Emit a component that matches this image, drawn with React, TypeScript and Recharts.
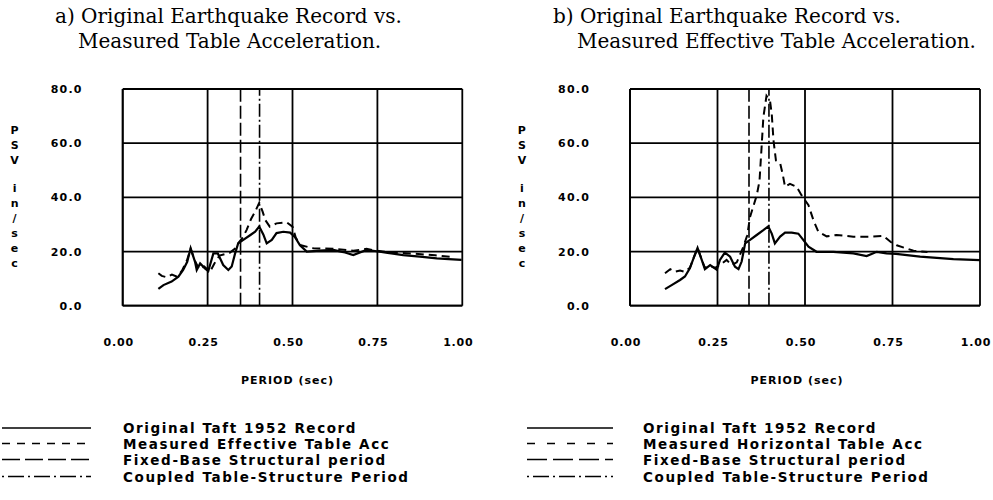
import {CartesianGrid, Line, LineChart, ReferenceLine, XAxis, YAxis} from "recharts";

// a) original record vs measured table acceleration
const taftPeriodA = [0.105, 0.12, 0.144, 0.164, 0.178, 0.19, 0.2, 0.213, 0.218, 0.228, 0.242, 0.252, 0.267, 0.28, 0.296, 0.311, 0.321, 0.331, 0.34, 0.355, 0.375, 0.39, 0.402, 0.414, 0.424, 0.439, 0.453, 0.473, 0.493, 0.507, 0.522, 0.542, 0.58, 0.62, 0.65, 0.679, 0.718, 0.743, 0.78, 0.826, 0.875, 0.925, 0.96, 0.998];
const taftPsvA = [6.2, 7.6, 8.9, 10.7, 13.2, 16.2, 21.2, 16.2, 13.2, 15.6, 13.8, 12.8, 19.3, 19.3, 15, 13.2, 14.5, 19.3, 23, 24.3, 26, 27.3, 29.2, 26.3, 23, 24.3, 26.8, 27.3, 27, 25.4, 22.3, 20, 20.3, 20.6, 19.8, 18.7, 20.6, 20.2, 19.5, 18.7, 18.1, 17.5, 17.2, 16.9];
const tablePeriodA = [0.105, 0.115, 0.13, 0.145, 0.16, 0.175, 0.19, 0.2, 0.213, 0.225, 0.24, 0.257, 0.27, 0.285, 0.3, 0.315, 0.33, 0.34, 0.355, 0.365, 0.378, 0.39, 0.402, 0.412, 0.42, 0.433, 0.453, 0.483, 0.5, 0.51, 0.525, 0.561, 0.62, 0.679, 0.718, 0.745, 0.8, 0.86, 0.92, 0.97];
const tablePsvA = [12, 11, 10.5, 11.5, 10.7, 13, 17, 21, 16.5, 13.5, 14.5, 12.5, 15.6, 18.5, 19, 19.5, 21, 23, 25.5, 28, 32, 34.7, 38, 34.7, 31.6, 29.2, 30.4, 30.8, 29.2, 25, 22.3, 21.2, 21, 20.3, 21, 20.3, 19.6, 19.2, 18.6, 18];

// b) original record vs measured horizontal table acceleration
const taftPeriodB = [0.1, 0.119, 0.143, 0.157, 0.171, 0.183, 0.193, 0.205, 0.214, 0.229, 0.248, 0.257, 0.271, 0.286, 0.3, 0.31, 0.319, 0.329, 0.343, 0.362, 0.381, 0.395, 0.405, 0.414, 0.429, 0.443, 0.462, 0.481, 0.495, 0.51, 0.533, 0.581, 0.638, 0.676, 0.705, 0.733, 0.76, 0.829, 0.924, 1.0];
const taftPsvB = [6.1, 7.6, 9.5, 10.8, 13.8, 18, 21.3, 16.9, 13.5, 15, 13.3, 16.9, 19.6, 18.1, 14.4, 13.5, 16.3, 23, 24.3, 26.1, 27.9, 29.3, 26.6, 23, 25.5, 27, 27, 26.6, 24.3, 21.8, 19.9, 19.9, 19.3, 18.3, 19.9, 19.3, 19.1, 18.1, 17.2, 16.8];
const tablePeriodB = [0.1, 0.115, 0.128, 0.143, 0.157, 0.171, 0.183, 0.193, 0.205, 0.214, 0.229, 0.243, 0.257, 0.276, 0.29, 0.305, 0.324, 0.335, 0.343, 0.352, 0.362, 0.37, 0.376, 0.381, 0.39, 0.4, 0.405, 0.41, 0.417, 0.429, 0.436, 0.443, 0.457, 0.476, 0.49, 0.51, 0.524, 0.538, 0.562, 0.59, 0.638, 0.686, 0.724, 0.745, 0.762, 0.81, 0.85];
const tablePsvB = [12, 13.5, 12.5, 13, 12.5, 14, 18, 21.3, 17, 14, 14.5, 14, 15, 16.9, 15, 16, 21.8, 26, 32.8, 36.5, 40.7, 46, 58.6, 69.5, 77.5, 75.7, 70.8, 61, 53.6, 52.6, 48.7, 43.9, 45, 43.9, 40.8, 37.1, 31.6, 27.3, 25.6, 26.1, 25.5, 25.5, 25.8, 23.5, 22.3, 20.3, 19.8];

const fixedBaseA = 0.347;
const coupledA = 0.403;
const fixedBaseB = 0.34;
const coupledB = 0.397;

const periodTicks = [0, 0.25, 0.5, 0.75, 1];
const psvTicks = [0, 20, 40, 60, 80];
const psvLetters = ["P", "S", "V", "i", "n", "/", "s", "e", "c"];

const titleA = ["a) Original Earthquake Record vs.", "Measured Table Acceleration."];
const titleB = ["b) Original Earthquake Record vs.", "Measured Effective Table Acceleration."];
const legendA = ["Original Taft 1952 Record", "Measured Effective Table Acc", "Fixed-Base Structural period", "Coupled Table-Structure Period"];
const legendB = ["Original Taft 1952 Record", "Measured Horizontal Table Acc", "Fixed-Base Structural period", "Coupled Table-Structure Period"];

const SANS = '"DejaVu Sans", sans-serif';
const SERIF = '"DejaVu Serif", serif';
const tickStyle = {fontFamily: SANS, fontWeight: 700, fontSize: 11, letterSpacing: 1.2, fill: "#000"};

type Pt = {period: number; psv: number};
const toPoints = (periods: number[], psv: number[]): Pt[] => periods.map((p, i) => ({period: p, psv: psv[i]}));

function PeriodTick({x, y, payload}: any) {
  return (
    <text x={x} y={y} dx={-4} dy={9} textAnchor="middle" style={{...tickStyle, letterSpacing: 0.8}}>
      {Number(payload.value).toFixed(2)}
    </text>
  );
}

function PsvTick({x, y, payload}: any) {
  return <text x={x} y={y} dy={4} textAnchor="end" style={tickStyle}>{Number(payload.value).toFixed(1)}</text>;
}

function PeriodLabel({viewBox, shift}: any) {
  if (!viewBox) return null;
  return (
    <text x={viewBox.x + viewBox.width / 2 + shift} y={viewBox.y + 78} textAnchor="middle" style={{...tickStyle, letterSpacing: 1}}>
      PERIOD (sec)
    </text>
  );
}

function PsvLabel({viewBox}: any) {
  if (!viewBox) return null;
  const x = viewBox.x - 47.5;
  return (
    <text textAnchor="middle" style={tickStyle}>
      {psvLetters.map((ch, i) => (
        <tspan key={i} x={x} y={viewBox.y + 45 + i * 15 + (i >= 3 ? 13 : 0)}>{ch}</tspan>
      ))}
    </text>
  );
}

const legendDashA = ["", "8 7", "18 5", "2 4 16 4"];
const legendDashB = ["", "8 12", "20 6", "2 4 16 4"];

function LegendBlock({left, lineX1, lineX2, textX, labels, dashes}: any) {
  const rows = [18, 33.5, 49.5, 66.5];
  return (
    <svg style={{position: "absolute", left, top: 410}} width={497} height={90}>
      {labels.map((lab: string, i: number) => (
        <g key={lab}>
          <line x1={lineX1} x2={lineX2} y1={rows[i]} y2={rows[i]} stroke="#000" strokeWidth={1.6} strokeDasharray={dashes[i] || undefined}/>
          <text x={textX} y={rows[i] + 5} style={{fontFamily: SANS, fontWeight: 700, fontSize: 13.5, letterSpacing: 1.6, fill: "#000"}}>{lab}</text>
        </g>
      ))}
    </svg>
  );
}

function Title({lines, x1, x2}: any) {
  const st = {position: "absolute" as const, fontFamily: SERIF, fontSize: 20, lineHeight: "24px", whiteSpace: "nowrap" as const, color: "#000"};
  return (
    <>
      <div style={{...st, left: x1, top: 4}}>{lines[0]}</div>
      <div style={{...st, left: x2, top: 28.5}}>{lines[1]}</div>
    </>
  );
}

function Panel({left, width, marginLeft, marginRight, taft, table, fixedBase, coupled, labelShift}: any) {
  return (
    <div style={{position: "absolute", left, top: 0}}>
      <LineChart width={width} height={400} margin={{top: 89, right: marginRight, bottom: 14.3, left: marginLeft}}>
        <CartesianGrid stroke="#000" strokeWidth={1.8}/>
        <XAxis type="number" dataKey="period" domain={[0, 1]} ticks={periodTicks} interval={0} height={80}
               tickLine={false} tickMargin={25} axisLine={{stroke: "#000", strokeWidth: 1.8}}
               tick={<PeriodTick/>} label={<PeriodLabel shift={labelShift}/>}/>
        <YAxis type="number" domain={[0, 80]} ticks={psvTicks} interval={0} width={60}
               tickLine={false} tickMargin={34} axisLine={{stroke: "#000", strokeWidth: 1.8}}
               tick={<PsvTick/>} label={<PsvLabel/>}/>
        <ReferenceLine x={fixedBase} stroke="#000" strokeWidth={1.6} strokeDasharray="13 4"/>
        <ReferenceLine x={coupled} stroke="#000" strokeWidth={1.6} strokeDasharray="13 3 2 3"/>
        <Line data={table} dataKey="psv" type="linear" stroke="#000" strokeWidth={2} strokeDasharray="8 5"
              dot={false} isAnimationActive={false}/>
        <Line data={taft} dataKey="psv" type="linear" stroke="#000" strokeWidth={2.2}
              dot={false} isAnimationActive={false}/>
      </LineChart>
    </div>
  );
}

export default function App() {
  return (
    <div style={{position: "absolute", left: 0, top: 0, width: 993, height: 500, background: "#fff", overflow: "hidden"}}>
      <Title lines={titleA} x1={55} x2={78}/>
      <Title lines={titleB} x1={553} x2={577}/>
      <Panel left={0} width={480} marginLeft={62.7} marginRight={17.7}
             taft={toPoints(taftPeriodA, taftPsvA)} table={toPoints(tablePeriodA, tablePsvA)}
             fixedBase={fixedBaseA} coupled={coupledA} labelShift={-5}/>
      <Panel left={496} width={497} marginLeft={74} marginRight={13}
             taft={toPoints(taftPeriodB, taftPsvB)} table={toPoints(tablePeriodB, tablePsvB)}
             fixedBase={fixedBaseB} coupled={coupledB} labelShift={-8}/>
      <LegendBlock left={0} lineX1={2} lineX2={91} textX={123} labels={legendA} dashes={legendDashA}/>
      <LegendBlock left={496} lineX1={31} lineX2={117} textX={147} labels={legendB} dashes={legendDashB}/>
    </div>
  );
}
